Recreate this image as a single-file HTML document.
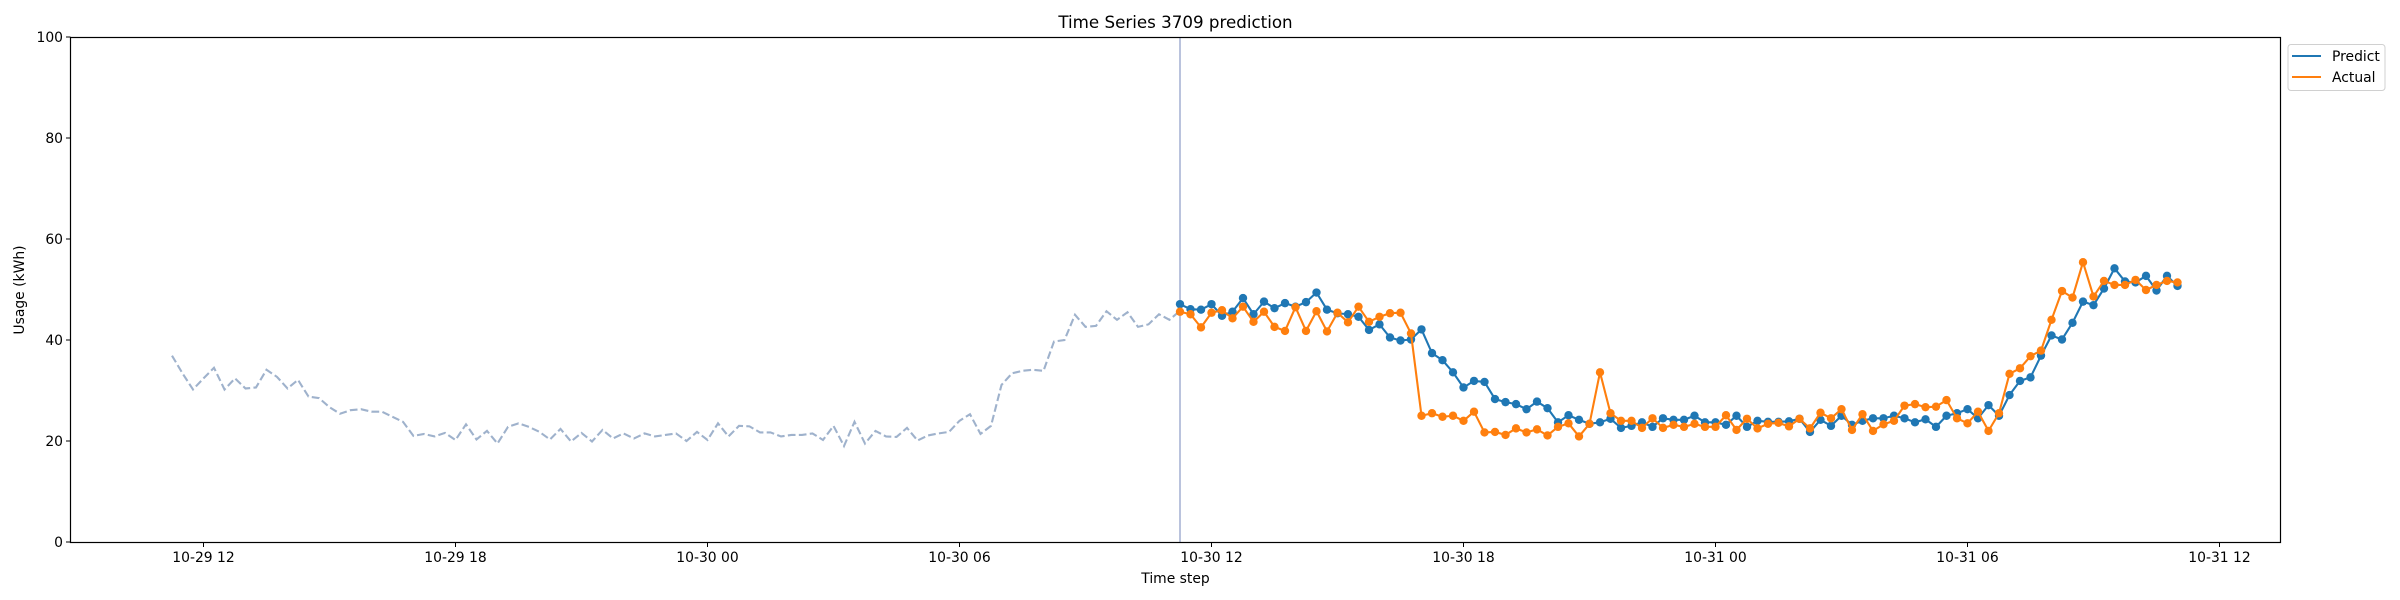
<!DOCTYPE html>
<html><head><meta charset="utf-8"><style>
html,body{margin:0;padding:0;background:#fff;}
svg{display:block;font-family:"DejaVu Sans","Liberation Sans",sans-serif;}
</style></head><body>
<svg id="chart" width="2400" height="600" viewBox="0 0 2400 600" xmlns="http://www.w3.org/2000/svg">
<rect x="0" y="0" width="2400" height="600" fill="#fff"/>
<text x="1175.5" y="28" font-size="16.7" text-anchor="middle" fill="#000">Time Series 3709 prediction</text>
<g id="plot"></g>
<rect x="70.5" y="37.5" width="2210" height="505" fill="none" stroke="#000" stroke-width="1.2"/>
<text x="1175.5" y="583" font-size="13.9" text-anchor="middle">Time step</text>
<text x="0" y="0" font-size="13.9" text-anchor="middle" transform="translate(24,290) rotate(-90)">Usage (kWh)</text>
<g>
<rect x="2288" y="44.5" width="97" height="46" rx="3" fill="#fff" stroke="#d0d0d0" stroke-width="1"/>
<line x1="2292" y1="56" x2="2321" y2="56" stroke="#1f77b4" stroke-width="2.1"/>
<text x="2332" y="61" font-size="13.9">Predict</text>
<line x1="2292" y1="77" x2="2321" y2="77" stroke="#ff7f0e" stroke-width="2.1"/>
<text x="2332" y="82" font-size="13.9">Actual</text>
</g>
</svg>
<script>
const historyValues=[36.9,33.4,30.2,32.4,34.5,30.2,32.4,30.4,30.6,34.1,32.7,30.4,32.1,28.8,28.5,26.7,25.4,26.1,26.3,25.8,25.8,24.8,23.8,21.0,21.4,20.9,21.6,20.2,23.3,20.3,22.0,19.5,22.8,23.5,22.8,21.8,20.3,22.4,19.9,21.6,19.9,22.2,20.5,21.5,20.5,21.5,20.9,21.2,21.5,20.0,21.8,20.2,23.5,20.9,23.0,22.9,21.7,21.7,20.9,21.2,21.2,21.5,20.2,23.0,19.0,23.8,19.5,22.0,20.9,20.8,22.6,20.1,21.1,21.5,21.8,24.0,25.3,21.4,23.0,31.1,33.4,33.9,34.1,33.9,39.7,40.0,45.0,42.6,42.8,45.7,44.0,45.5,42.6,43.1,45.1,44.0,45.8];
const predictValues=[47.1,46.1,46.0,47.1,44.8,45.6,48.3,45.1,47.6,46.3,47.3,46.6,47.5,49.4,46.0,45.3,45.1,44.6,42.0,43.1,40.5,39.9,40.1,42.1,37.4,36.0,33.6,30.6,31.9,31.7,28.3,27.7,27.3,26.3,27.8,26.5,23.7,25.1,24.2,23.4,23.7,24.4,22.6,23.0,23.7,22.8,24.5,24.2,24.2,25.0,23.7,23.7,23.2,25.0,22.8,24.0,23.8,23.8,23.9,24.4,21.8,24.2,23.0,25.0,23.2,24.0,24.5,24.5,25.0,24.5,23.7,24.3,22.8,25.0,25.5,26.3,24.5,27.1,25.0,29.1,31.9,32.6,36.9,40.9,40.1,43.4,47.6,46.9,50.2,54.2,51.6,51.4,52.7,49.8,52.7,50.7];
const actualValues=[45.6,45.1,42.5,45.4,45.9,44.3,46.6,43.6,45.6,42.6,41.8,46.5,41.8,45.7,41.7,45.4,43.5,46.6,43.6,44.6,45.3,45.4,41.3,25.0,25.5,24.8,25.0,24.0,25.8,21.7,21.8,21.2,22.5,21.7,22.3,21.1,22.8,23.5,20.9,23.4,33.6,25.5,24.0,24.0,22.6,24.5,22.6,23.2,22.8,23.4,22.8,22.8,25.1,22.2,24.4,22.5,23.4,23.6,22.9,24.4,22.5,25.6,24.5,26.3,22.2,25.3,22.0,23.3,24.0,27.0,27.3,26.7,26.8,28.1,24.5,23.5,25.8,22.0,25.5,33.3,34.4,36.8,37.9,44.0,49.7,48.4,55.4,48.6,51.7,50.9,50.9,51.9,49.9,50.9,51.7,51.4];
const xTickLabels=["10-29 12","10-29 18","10-30 00","10-30 06","10-30 12","10-30 18","10-31 00","10-31 06","10-31 12"];
const yTickValues=[0,20,40,60,80,100];
const historyStartStep=-3;
const predictStartStep=93;
const stepsPerTick=24;

const NS="http://www.w3.org/2000/svg";
const plot=document.getElementById('plot');
function xScale(step){return 203.5+10.5*step;}
function yScale(v){return 542-5.05*v;}
function mk(tag,attrs){const e=document.createElementNS(NS,tag);for(const k in attrs)e.setAttribute(k,attrs[k]);plot.appendChild(e);return e;}

yTickValues.forEach(v=>{
  const y=yScale(v);
  const t=mk('line',{x1:66,y1:y,x2:70.5,y2:y,stroke:'#000','stroke-width':1});
  
  
  const l=mk('text',{x:63,y:y+5,'font-size':13.9,'text-anchor':'end'});
  
  
  l.textContent=v;
});
xTickLabels.forEach((s,i)=>{
  const x=xScale(i*stepsPerTick);
  if(x>2280)return;
  const t=mk('line',{x1:x,y1:542.5,x2:x,y2:547,stroke:'#000','stroke-width':1});
  
  
  const l=mk('text',{x:x,y:562,'font-size':13.9,'text-anchor':'middle'});
  
  
  l.textContent=s;
});

const vx=xScale(predictStartStep);
const vl=mk('line',{x1:vx,y1:37.5,x2:vx,y2:542,stroke:'#a3afd2','stroke-width':1.5});



const hp=historyValues.map((v,i)=>xScale(historyStartStep+i)+','+yScale(v)).join(' ');
const hl=mk('polyline',{points:hp,fill:'none',stroke:'#9fb2cc','stroke-width':2.1,'stroke-dasharray':'7.7,3.3'});



function series(vals,color,name){
  const p=vals.map((v,i)=>xScale(predictStartStep+i)+','+yScale(v)).join(' ');
  const pl=mk('polyline',{points:p,fill:'none',stroke:color,'stroke-width':2.1,'stroke-linejoin':'round'});
  
  
  vals.forEach((v,i)=>{
    const c=mk('circle',{cx:xScale(predictStartStep+i),cy:yScale(v),r:4.2,fill:color});
    
    
  });
}
series(predictValues,'#1f77b4','predict');
series(actualValues,'#ff7f0e','actual');
</script>
</body></html>
